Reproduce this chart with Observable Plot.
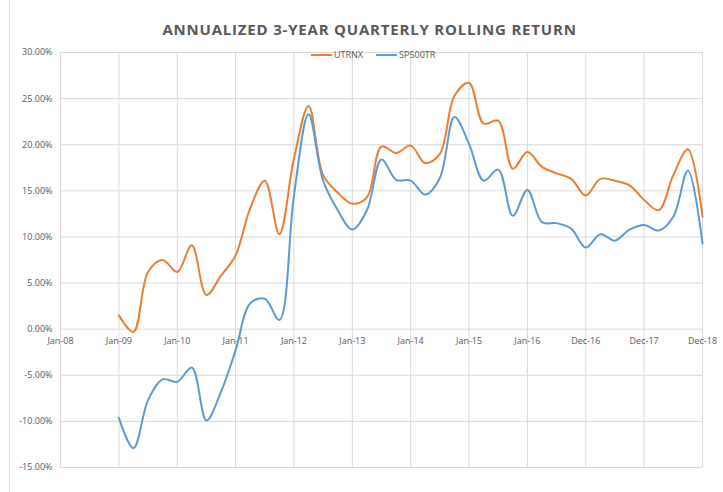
<!DOCTYPE html>
<html>
<head>
<meta charset="utf-8">
<script src="https://cdn.jsdelivr.net/npm/d3@7"></script>
<script src="https://cdn.jsdelivr.net/npm/@observablehq/plot@0.6"></script>
<style>
  html, body { margin: 0; padding: 0; background: #fff; }
  #wrap { position: relative; width: 723px; height: 492px; overflow: hidden; font-family: "Open Sans", "Liberation Sans", sans-serif; }
  #frame { position: absolute; left: 9px; top: 0; width: 730px; height: 500px; border-left: 1px solid #d9d9d9; box-sizing: border-box; }
  #title { position: absolute; left: 0; top: 0; width: 723px; height: 44px; text-align: center; line-height: 58px; font-size: 15px; font-weight: 700; letter-spacing: 0.8px; color: #595959; padding-left: 16px; box-sizing: border-box; }
  #chart { position: absolute; left: 0; top: 44px; }
  #legend { position: absolute; top: 48px; left: 311px; font-size: 9px; color: #595959; display: flex; align-items: center; gap: 0; }
  #legend .item { display: flex; align-items: center; margin-right: 13px; }
  #legend .sw { display: inline-block; width: 21px; height: 2px; margin-right: 2px; }
</style>
</head>
<body>
<div id="wrap">
  <div id="frame"></div>
  <div id="title">ANNUALIZED 3-YEAR QUARTERLY ROLLING RETURN</div>
  <div id="chart"></div>
  <div id="legend"></div>
</div>
<script>
// Quarter index 0 = Jan-08 ... 44 = Dec-18 (category axis, one label every 4 quarters)
const tickLabels = ["Jan-08","Jan-09","Jan-10","Jan-11","Jan-12","Jan-13","Jan-14","Jan-15","Jan-16","Dec-16","Dec-17","Dec-18"];
const seriesNames = ["UTRNX", "SP500TR"];
const seriesColors = ["#ED7D31", "#5B9BD5"];
// values in %, null where no data (first four quarters of 2008)
const utrnx = [null,null,null,null,
  1.5,-0.3,6.2,7.5,6.2,9.1,3.7,5.8,8.0,13.1,16.1,10.3,18.5,24.2,16.7,14.8,13.6,14.3,19.8,19.1,19.9,
  18.0,19.0,25.3,26.7,22.3,22.6,17.4,19.2,17.6,16.9,16.3,14.5,16.3,16.1,15.6,14.0,12.9,16.7,19.5,12.2];
const sp500tr = [null,null,null,null,
  -9.6,-12.9,-7.7,-5.45,-5.7,-4.15,-9.9,-6.8,-2.3,2.8,3.3,1.0,14.5,23.3,16.1,12.9,10.8,12.9,18.4,16.2,16.1,
  14.6,16.4,23.0,20.1,16.1,17.3,12.3,15.1,11.6,11.5,10.9,8.85,10.3,9.6,10.8,11.3,10.7,12.2,17.2,9.3];
const yTicks = [-15,-10,-5,0,5,10,15,20,25,30];

const rows = [];
[utrnx, sp500tr].forEach((arr, s) => arr.forEach((v, i) => {
  if (v !== null) rows.push({q: i, v: v / 100, series: seriesNames[s]});
}));
const xTicks = tickLabels.map((_, k) => k * 4);

const chart = Plot.plot({
  width: 723,
  height: 448,
  marginLeft: 60,
  marginRight: 21,
  marginTop: 8,
  marginBottom: 25,
  style: {fontFamily: "'Open Sans', 'Liberation Sans', sans-serif", fontSize: "9px", color: "#595959", background: "transparent"},
  x: {domain: [0, 44], axis: null},
  y: {domain: [-0.15, 0.30], axis: null},
  color: {domain: seriesNames, range: seriesColors},
  marks: [
    Plot.ruleY(yTicks.map(d => d / 100), {stroke: "#d9d9d9", strokeWidth: 1}),
    Plot.ruleX(xTicks, {stroke: "#d9d9d9", strokeWidth: 1}),
    Plot.text(yTicks.map(d => d / 100), {
      y: d => d, frameAnchor: "left", dx: -8, textAnchor: "end",
      text: d => (d * 100).toFixed(2) + "%", fill: "#595959", fontSize: 9
    }),
    Plot.text(xTicks, {
      x: d => d, y: 0, dy: 12, text: (d, i) => tickLabels[i], fill: "#595959", fontSize: 9
    }),
    Plot.line(rows, {x: "q", y: "v", z: "series", stroke: "series", strokeWidth: 2, curve: "catmull-rom"})
  ]
});
document.getElementById("chart").appendChild(chart);

const legend = document.getElementById("legend");
seriesNames.forEach((name, i) => {
  const item = document.createElement("span");
  item.className = "item";
  const sw = document.createElement("span");
  sw.className = "sw";
  sw.style.background = seriesColors[i];
  item.appendChild(sw);
  item.appendChild(document.createTextNode(name));
  legend.appendChild(item);
});
</script>
</body>
</html>
